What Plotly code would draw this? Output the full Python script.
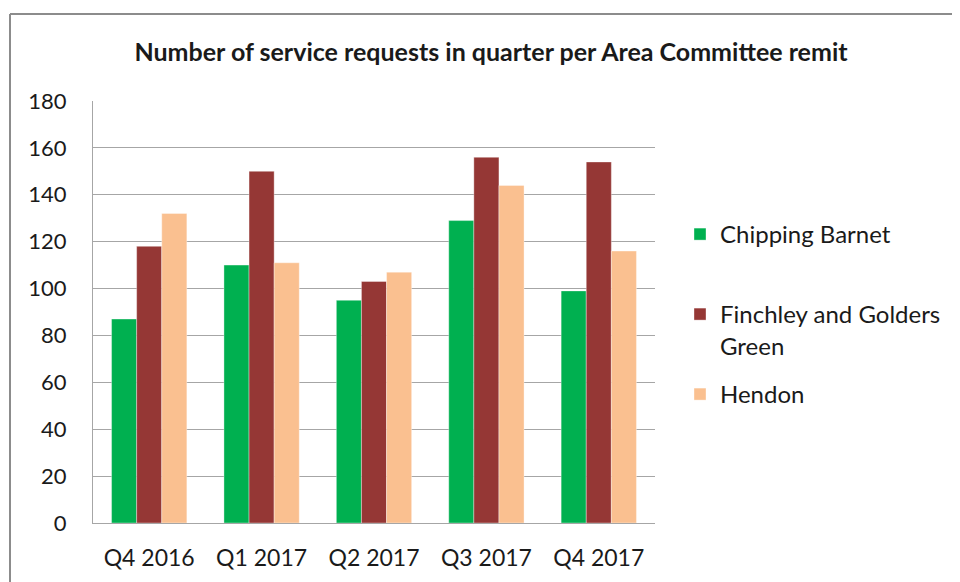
import plotly.graph_objects as go

kwartaly = ['Q4 2016', 'Q1 2017', 'Q2 2017', 'Q3 2017', 'Q4 2017']
chipping_barnet = [87, 110, 95, 129, 99]
finchley_golders = [118, 150, 103, 156, 154]
hendon = [132, 111, 107, 144, 116]

serie = [
    ('Chipping Barnet', chipping_barnet, '#00B050'),
    ('Finchley and Golders<br>Green', finchley_golders, '#953735'),
    ('Hendon', hendon, '#FAC090'),
]

FONT = 'Lato'
TXT = '#1a1a1a'

# strona ma 8px marginesu body, wiec wspolrzedne sa przesuniete o -8
L, R, T, B = 85, 647, 93, 515
W, H = 960, 582
pw, ph = R - L, B - T

def px_x(x):
    return (x - L) / pw

def px_y(y):
    return (B - y) / ph

fig = go.Figure()
legendy = ['legend', 'legend2', 'legend3']
for i, (nazwa, wartosci, kolor) in enumerate(serie):
    fig.add_trace(go.Bar(x=kwartaly, y=wartosci, name=nazwa, legend=legendy[i], showlegend=True,
                         marker=dict(color=kolor, line=dict(color='rgba(255,255,255,0.6)', width=0.6))))

leg_top = [204, 284, 364]
leg_cfg = {}
for nazwa_leg, top in zip(legendy, leg_top):
    leg_cfg[nazwa_leg] = dict(x=px_x(672), y=px_y(top), xanchor='left', yanchor='top',
                             valign='top', font=dict(family=FONT, size=24, color=TXT),
                             bgcolor='rgba(0,0,0,0)')

ramka = dict(type='line', xref='paper', yref='paper',
             line=dict(color='#8C8C8C', width=2), layer='below')

fig.update_layout(
    width=W, height=H, showlegend=True,
    margin=dict(l=L, r=W - R, t=T, b=H - B),
    plot_bgcolor='white', paper_bgcolor='white',
    font=dict(family=FONT, size=22, color=TXT),
    title=dict(text='<b>Number of service requests in quarter per Area Committee remit</b>',
               xref='paper', x=px_x(483), xanchor='center',
               yref='container', y=1 - 44 / H, yanchor='middle',
               font=dict(family=FONT, size=25, color=TXT)),
    barmode='group', bargap=0.33, bargroupgap=0,
    shapes=[dict(ramka, x0=px_x(2), x1=px_x(1100), y0=px_y(6), y1=px_y(6)),
            dict(ramka, x0=px_x(2), x1=px_x(2), y0=px_y(700), y1=px_y(6))],
    **leg_cfg,
)
fig.update_yaxes(range=[0, 180], dtick=20, showgrid=True, gridcolor='#A6A6A6', gridwidth=1,
                 showline=True, linecolor='#A6A6A6', linewidth=1, zeroline=False,
                 ticks='', ticklabelstandoff=21, tickfont=dict(family=FONT, size=22, color=TXT))
fig.update_xaxes(showline=True, linecolor='#A6A6A6', linewidth=1,
                 ticks='', ticklabelstandoff=14, tickfont=dict(family=FONT, size=23, color=TXT))

fig.write_html('out.html')
